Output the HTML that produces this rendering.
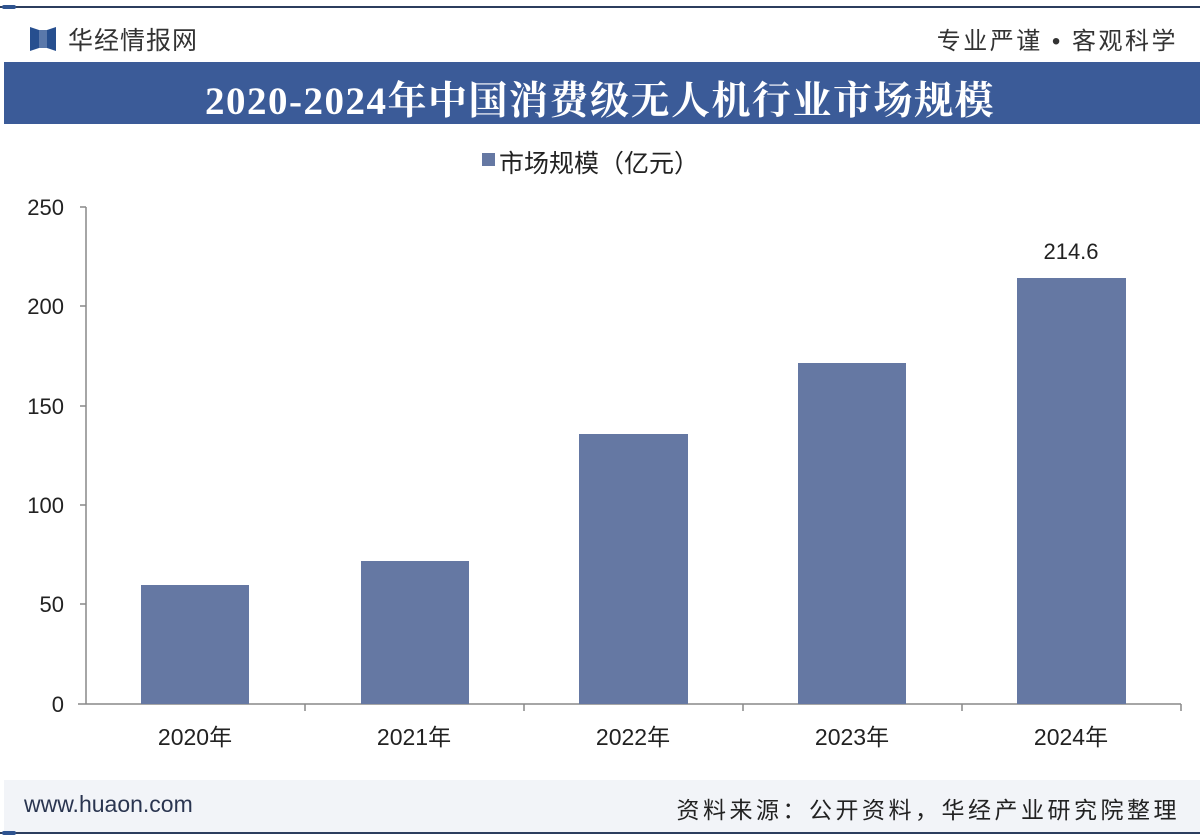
<!DOCTYPE html>
<html><head><meta charset="utf-8"><style>
body{margin:0;width:1200px;height:838px;background:#fff;position:relative;overflow:hidden;font-family:"Liberation Sans","Noto Sans CJK SC",sans-serif;}
.a{position:absolute}
</style></head><body>
<div class="a" style="left:0;top:6px;width:1200px;height:2px;background:#2c3e5e"></div>
<div class="a" style="left:2px;top:5px;width:14px;height:4px;background:#2f5490;border-radius:2px"></div>
<svg class="a" style="left:30px;top:27px" width="26" height="24"><polygon points="0,0 9,3 9,21 0,24" fill="#274f8f"/><polygon points="26,0 17,3 17,21 26,24" fill="#274f8f"/><rect x="9" y="3" width="8" height="18" fill="#5a78aa"/></svg>
<div class="a" style="left:68px;top:21px;font-size:25px;color:#333;letter-spacing:1px">华经情报网</div>
<div class="a" style="right:22px;top:21px;font-size:24px;color:#333;letter-spacing:2.5px">专业严谨 • 客观科学</div>
<div class="a" style="left:4px;top:62px;width:1196px;height:62px;background:#3b5b98"></div>
<div class="a" style="left:0;top:70px;width:1200px;text-align:center;font-family:'Liberation Serif','Noto Serif CJK SC',serif;font-weight:bold;font-size:39px;color:#fff;letter-spacing:1.5px">2020-2024年中国消费级无人机行业市场规模</div>
<div class="a" style="left:482px;top:153px;width:13px;height:13px;background:#6578a3"></div>
<div class="a" style="left:499px;top:144px;font-size:25px;color:#222">市场规模（亿元）</div>
<svg class="a" style="left:0;top:0" width="1200" height="838">
<g stroke="#888" stroke-width="1.5" fill="none">
<line x1="86" y1="207" x2="86" y2="704"/>
<line x1="78" y1="704" x2="1181" y2="704"/>
<line x1="80" y1="207" x2="86" y2="207"/><line x1="80" y1="306" x2="86" y2="306"/><line x1="80" y1="406" x2="86" y2="406"/><line x1="80" y1="505" x2="86" y2="505"/><line x1="80" y1="604" x2="86" y2="604"/>
<line x1="305" y1="704" x2="305" y2="711"/><line x1="524" y1="704" x2="524" y2="711"/><line x1="743" y1="704" x2="743" y2="711"/><line x1="962" y1="704" x2="962" y2="711"/><line x1="1181" y1="704" x2="1181" y2="711"/>
</g>
<g fill="#6578a3">
<rect x="141" y="585" width="108" height="119"/>
<rect x="361" y="561" width="108" height="143"/>
<rect x="579" y="434" width="109" height="270"/>
<rect x="798" y="363" width="108" height="341"/>
<rect x="1017" y="278" width="109" height="426"/>
</g>
<g font-size="22" fill="#222" text-anchor="end" font-family="Liberation Sans,sans-serif">
<text x="64" y="215">250</text><text x="64" y="314">200</text><text x="64" y="414">150</text><text x="64" y="513">100</text><text x="64" y="612">50</text><text x="64" y="712">0</text>
</g>
<text x="1071" y="259" font-size="22" fill="#222" text-anchor="middle">214.6</text>
<g font-size="23" fill="#222" text-anchor="middle" font-family="Liberation Sans,Noto Sans CJK SC,sans-serif">
<text x="195" y="745">2020年</text><text x="414" y="745">2021年</text><text x="633" y="745">2022年</text><text x="852" y="745">2023年</text><text x="1071" y="745">2024年</text>
</g>
</svg>
<div class="a" style="left:4px;top:780px;width:1196px;height:52px;background:#f2f4f8"></div>
<div class="a" style="left:24px;top:791px;font-size:23px;color:#2a3550">www.huaon.com</div>
<div class="a" style="right:20px;top:791px;font-size:23px;color:#222;letter-spacing:3.5px">资料来源：公开资料，华经产业研究院整理</div>
<div class="a" style="left:0;top:832px;width:1200px;height:2px;background:#2c3e5e"></div>
<div class="a" style="left:2px;top:831px;width:14px;height:4px;background:#2f5490;border-radius:2px"></div>
</body></html>
